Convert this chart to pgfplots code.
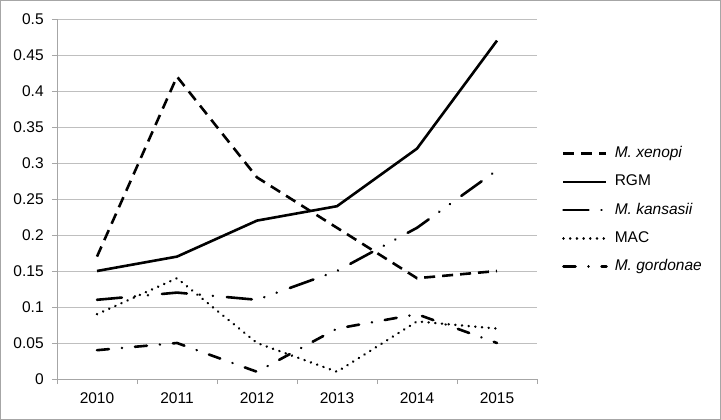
\documentclass[border=0pt]{standalone}
\usepackage{fontspec}
\setmainfont{Liberation Sans}
\usepackage{pgfplots}
\pgfplotsset{compat=1.18}
\definecolor{gridgray}{HTML}{BFBFBF}
\definecolor{axisgray}{HTML}{A6A6A6}

\begin{document}
\begin{tikzpicture}
\fontsize{15.5bp}{18bp}\selectfont
\draw[axisgray, line width=1bp] (0.5bp,0.5bp) rectangle (720.5bp,419.5bp);
\useasboundingbox (0,0) rectangle (721bp,420bp);
\begin{axis}[
  at={(57bp,41bp)}, anchor=south west,
  scale only axis, width=480bp, height=360bp,
  xmin=-0.5, xmax=5.5, ymin=0, ymax=0.5,
  axis x line=bottom, axis y line=left,
  axis line style={-, draw=axisgray, line width=0.8bp},
  xtick={0,...,5},
  xticklabels={2010,2011,2012,2013,2014,2015},
  minor xtick={-0.5,0.5,...,5.5},
  major x tick style={draw=none},
  minor x tick style={draw=axisgray, line width=0.8bp},
  ytick={0,0.05,...,0.5},
  y tick style={draw=axisgray, line width=0.8bp},
  tick align=outside,
  major tick length=5bp, minor tick length=5bp,
  ymajorgrids=true,
  grid style={draw=gridgray, line width=0.8bp},
  tick label style={font=\fontsize{15.5bp}{18bp}\selectfont},
  yticklabel style={/pgf/number format/fixed, /pgf/number format/precision=2,
    /pgf/number format/assume math mode=true, xshift=-3bp},
  xticklabel style={yshift=-3bp},
  legend style={at={(1.052,0.469)}, anchor=west, draw=none, fill=none,
    inner sep=0pt, row sep=14.3bp,
    font=\fontsize{15.5bp}{18bp}\selectfont,
    nodes={inner sep=0pt, text height=11bp, text depth=3bp},
    column sep=7bp},
  legend cell align=left,
  legend image code/.code={\draw[black, line width=2.6bp, #1] (0bp,0bp) -- (43bp,0bp);},
  every axis plot/.append style={black, line width=2.6bp}
]
\addplot[dash pattern=on 11bp off 7bp] coordinates {
  (0,0.17) (1,0.42) (2,0.28) (3,0.21) (4,0.14) (5,0.15)};
\addlegendentry{\textit{M. xenopi}}
\addplot[solid] coordinates {
  (0,0.15) (1,0.17) (2,0.22) (3,0.24) (4,0.32) (5,0.47)};
\addlegendentry{RGM}
\addplot[line cap=round, dash pattern=on 25bp off 13bp on 0.1bp off 13bp on 0.1bp off 14bp] coordinates {
  (0,0.11) (1,0.12) (2,0.11) (3,0.15) (4,0.21) (5,0.29)};
\addlegendentry{\textit{M. kansasii}}
\addplot[line cap=round, dash pattern=on 0.1bp off 6.6bp] coordinates {
  (0,0.09) (1,0.14) (2,0.05) (3,0.01) (4,0.08) (5,0.07)};
\addlegendentry{MAC}
\addplot[line cap=round, dash pattern=on 12bp off 13bp on 0.1bp off 13bp] coordinates {
  (0,0.04) (1,0.05) (2,0.01) (3,0.07) (4,0.09) (5,0.05)};
\addlegendentry{\textit{M. gordonae}}
\end{axis}
\end{tikzpicture}
\end{document}
